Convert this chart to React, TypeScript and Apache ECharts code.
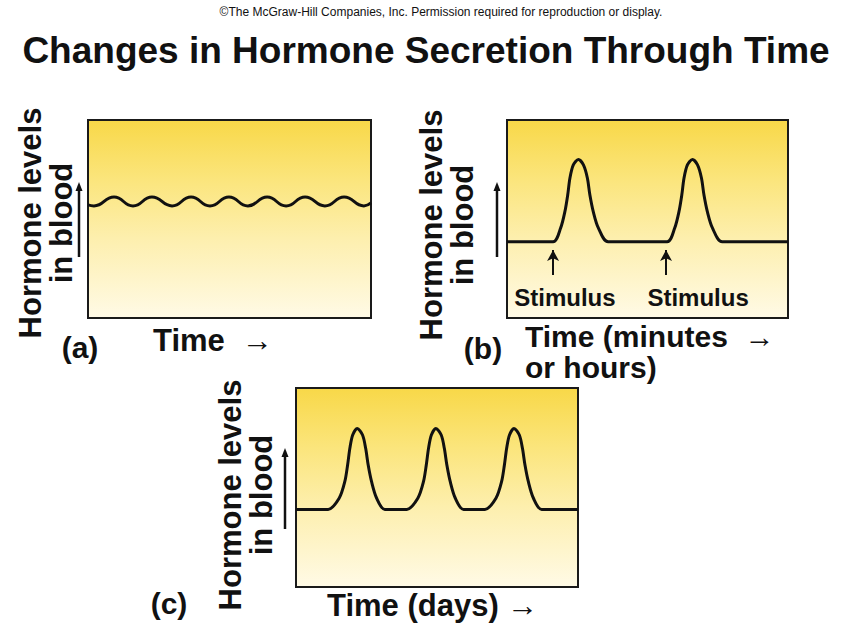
import React, { useEffect, useRef } from "react";
import * as echarts from "echarts";

// ---------- data (time in % of panel width, level in % of panel height) ----------
const waveTimes = [0, 2.1, 9.2, 15.9, 22.6, 29.7, 36.4, 43.1, 49.8, 56.5, 63.3, 70.0, 76.7, 83.7, 90.5, 97.5, 100];
const waveLevels = [57.1, 56.6, 61.1, 56.6, 61.1, 56.6, 61.1, 56.6, 61.1, 56.6, 61.1, 56.6, 61.1, 56.6, 61.1, 56.6, 58.1];

const pulseTimes = [0, 16.4, 19.1, 20.6, 21.6, 22.4, 23.6, 25.4, 27.2, 28.6, 29.5, 30.7, 32.5, 36.0,
  57.0, 59.7, 61.2, 62.2, 63.0, 64.2, 66.0, 67.8, 69.2, 70.1, 71.3, 73.1, 76.6, 100];
const pulseLevels = [38.5, 38.5, 45.5, 53.7, 62.1, 70.7, 77.3, 80.1, 77.3, 70.7, 62.1, 53.7, 45.5, 38.5,
  38.5, 45.5, 53.7, 62.1, 70.7, 77.3, 80.1, 77.3, 70.7, 62.1, 53.7, 45.5, 38.5, 38.5];

const stimulusTimes = [16.4, 56.6];
const stimulusLabelTimes = [20.6, 68.0];
const stimulusArrowFrom = 21.7;
const stimulusArrowTo = 34.3;
const stimulusLabelLevel = 10.6;
const stimulusLabel = "Stimulus";

const cycleTimes = [0, 11.4, 15.3, 17.3, 18.3, 19.1, 20.1, 21.7, 23.6, 24.7, 25.6, 26.8, 28.6, 31.5,
  39.3, 43.2, 45.2, 46.2, 47.0, 48.0, 49.6, 51.5, 52.6, 53.5, 54.7, 56.5, 59.4,
  67.0, 70.9, 72.9, 73.9, 74.7, 75.7, 77.3, 79.2, 80.3, 81.2, 82.4, 84.2, 87.1, 100];
const cycleLevels = [39.0, 39.0, 44.6, 52.9, 61.3, 69.7, 76.4, 79.7, 76.4, 69.7, 61.3, 52.9, 44.6, 39.0,
  39.0, 44.6, 52.9, 61.3, 69.7, 76.4, 79.7, 76.4, 69.7, 61.3, 52.9, 44.6, 39.0,
  39.0, 44.6, 52.9, 61.3, 69.7, 76.4, 79.7, 76.4, 69.7, 61.3, 52.9, 44.6, 39.0, 39.0];

const copyrightText = "©The McGraw-Hill Companies, Inc. Permission required for reproduction or display.";
const titleText = "Changes in Hormone Secretion Through Time";
const yLabel = "Hormone levels\nin blood";
const panelLetters = ["(a)", "(b)", "(c)"];
const xLabels = ["Time  →", "Time (minutes  →", "or hours)", "Time (days) →"];

const FF = '"Liberation Sans", Arial, Helvetica, sans-serif';

const zip = (xs: number[], ys: number[]) => xs.map((x, i) => [x, ys[i]]);

export default function App() {
  const ref = useRef<HTMLDivElement>(null);
  useEffect(() => {
    if (!ref.current) return;
    const chart = echarts.init(ref.current, null, { renderer: "svg" });
    const bg = () =>
      new echarts.graphic.LinearGradient(0, 0, 0, 1, [
        { offset: 0, color: "#F8D848" },
        { offset: 0.3, color: "#FBE57C" },
        { offset: 0.6, color: "#FDEFAE" },
        { offset: 1, color: "#FFFAE6" },
      ]);
    const grids = [
      { left: 88, top: 120, width: 283, height: 198 },
      { left: 507, top: 120, width: 281, height: 198 },
      { left: 296, top: 388, width: 282, height: 199 },
    ].map((g) => ({ ...g, show: true, borderColor: "#1a1a1a", borderWidth: 2, backgroundColor: bg() }));

    const axisX = [0, 1, 2].map((i) => ({ type: "value", gridIndex: i, min: 0, max: 100, show: false }));
    const axisY = [0, 1, 2].map((i) => ({ type: "value", gridIndex: i, min: 0, max: 100, show: false }));

    const lineStyle = { color: "#111", width: 3 };

    const txt = (text: string, x: number, y: number, size: number, align = "center", extra: any = {}, weight = "bold") => ({
      type: "text",
      x,
      y,
      silent: true,
      ...extra,
      style: {
        text,
        fill: "#111",
        font: `${weight} ${size}px ${FF}`,
        align,
        textAlign: align,
        verticalAlign: "middle",
        textVerticalAlign: "middle",
        lineHeight: extra.lineHeight || size * 1.0,
      },
    });

    const upArrow = (x: number, y1: number, y2: number) => ({
      type: "group",
      silent: true,
      children: [
        { type: "line", shape: { x1: x, y1: y2, x2: x, y2: y1 + 6 }, style: { stroke: "#111", lineWidth: 2.5 } },
        { type: "polygon", shape: { points: [[x, y1], [x - 3.5, y1 + 9], [x + 3.5, y1 + 9]] }, style: { fill: "#111" } },
      ],
    });

    const option: any = {
      animation: false,
      backgroundColor: "#ffffff",
      grid: grids,
      xAxis: axisX,
      yAxis: axisY,
      series: [
        {
          type: "line",
          xAxisIndex: 0,
          yAxisIndex: 0,
          data: zip(waveTimes, waveLevels),
          smooth: 0.5,
          showSymbol: false,
          lineStyle,
          silent: true,
        },
        {
          type: "line",
          xAxisIndex: 1,
          yAxisIndex: 1,
          data: zip(pulseTimes, pulseLevels),
          smooth: 0.3,
          showSymbol: false,
          lineStyle,
          silent: true,
          markLine: {
            silent: true,
            symbol: ["none", "arrow"],
            symbolSize: [9, 11],
            lineStyle: { color: "#111", width: 2, type: "solid" },
            label: { show: false },
            data: stimulusTimes.map((t) => [
              { coord: [t, stimulusArrowFrom] },
              { coord: [t, stimulusArrowTo] },
            ]),
          },
          markPoint: {
            silent: true,
            symbol: "circle",
            symbolSize: 1,
            itemStyle: { color: "rgba(0,0,0,0)" },
            label: {
              show: true,
              position: "inside",
              formatter: stimulusLabel,
              color: "#111",
              fontSize: 24,
              fontWeight: "bold",
              fontFamily: FF,
            },
            data: stimulusLabelTimes.map((t) => ({ coord: [t, stimulusLabelLevel] })),
          },
        },
        {
          type: "line",
          xAxisIndex: 2,
          yAxisIndex: 2,
          data: zip(cycleTimes, cycleLevels),
          smooth: 0.3,
          showSymbol: false,
          lineStyle,
          silent: true,
        },
      ],
      graphic: [
        txt(copyrightText, 441, 12, 12, "center", {}, "normal"),
        txt(titleText, 426, 50, 37),
        txt(yLabel, 46, 223, 31, "center", { rotation: Math.PI / 2, lineHeight: 31 }),
        txt(yLabel, 447, 225, 31, "center", { rotation: Math.PI / 2, lineHeight: 31 }),
        txt(yLabel, 246, 495, 31, "center", { rotation: Math.PI / 2, lineHeight: 31 }),
        upArrow(79, 182, 257),
        upArrow(497, 182, 257),
        upArrow(285, 448, 529),
        txt(panelLetters[0], 80, 347, 30),
        txt(panelLetters[1], 483, 348, 30),
        txt(panelLetters[2], 169, 603, 30),
        txt(xLabels[0], 153, 340, 31, "left"),
        txt(xLabels[1], 525, 336, 30, "left"),
        txt(xLabels[2], 525, 367, 30, "left"),
        txt(xLabels[3], 327, 605, 31, "left"),
      ],
    };
    chart.setOption(option);
    return () => chart.dispose();
  }, []);
  return (
    <div
      ref={ref}
      style={{ position: "fixed", left: 0, top: 0, width: 854, height: 643, background: "#fff" }}
    />
  );
}
